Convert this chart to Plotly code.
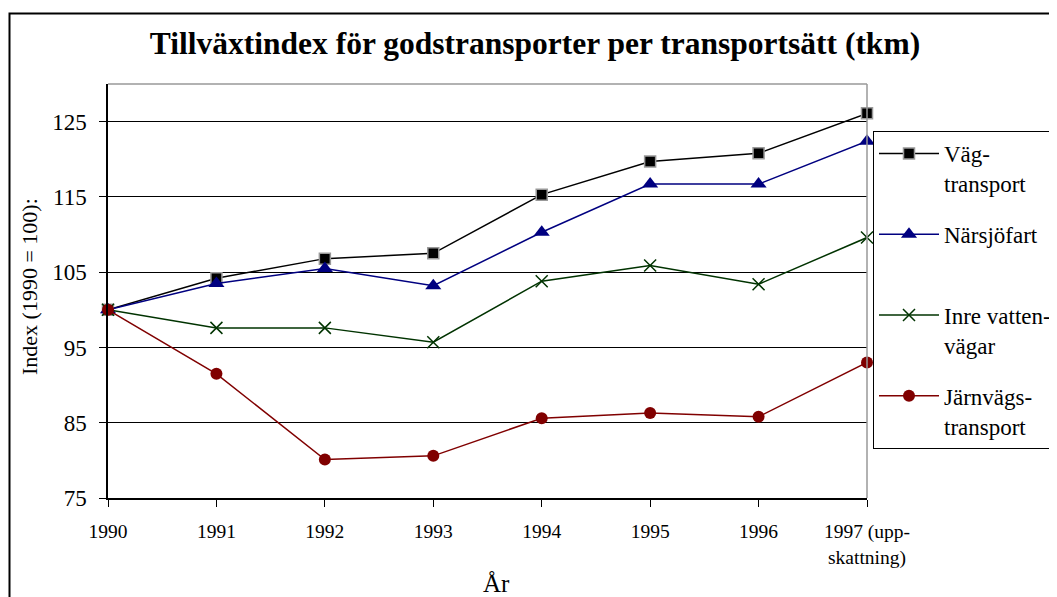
import plotly.graph_objects as go

years = [1990, 1991, 1992, 1993, 1994, 1995, 1996, 1997]
vag = [100, 104.2, 106.8, 107.5, 115.3, 119.7, 120.8, 126.1]
narsjo = [100, 103.5, 105.5, 103.2, 110.3, 116.7, 116.7, 122.4]
inre = [100, 97.6, 97.6, 95.7, 103.8, 105.9, 103.4, 109.6]
jarnvag = [100, 91.5, 80.1, 80.6, 85.6, 86.3, 85.8, 93.0]
tick_labels = ["1990", "1991", "1992", "1993", "1994", "1995", "1996",
               "1997 (upp-<br>skattning)"]
y_ticks = [75, 85, 95, 105, 115, 125]

FONT = "Liberation Serif"
OFF = 8  # page body margin
W, H = 1057 - OFF, 597 - OFF
# plot area in page (reference) pixels
L, R, T, B = 108, 867, 84, 498
pw, ph = R - L, B - T

def px_x(x):
    return (x - L) / pw

def px_y(y):
    return (B - y) / ph

fig = go.Figure()
fig.add_trace(go.Scatter(
    x=years, y=vag, name="Väg-<br>transport", mode="lines+markers",
    line=dict(color="#000000", width=1.5),
    marker=dict(symbol="square", size=11, color="#000000", line=dict(color="#999999", width=1.5)),
    cliponaxis=False, legendgroup="a"))
fig.add_trace(go.Scatter(
    x=years, y=narsjo, name="Närsjöfart<br> ", mode="lines+markers",
    line=dict(color="#000080", width=1.5),
    marker=dict(symbol="triangle-up", size=14, color="#000080"),
    cliponaxis=False, legendgroup="b"))
fig.add_trace(go.Scatter(
    x=years, y=inre, name="Inre vatten-<br>vägar", mode="lines+markers",
    line=dict(color="#003300", width=1.5),
    marker=dict(symbol="x-thin", size=12, color="#003300", line=dict(color="#003300", width=1.5)),
    cliponaxis=False, legendgroup="c"))
fig.add_trace(go.Scatter(
    x=years, y=jarnvag, name="Järnvägs-<br>transport", mode="lines+markers",
    line=dict(color="#800000", width=1.5),
    marker=dict(symbol="circle", size=12, color="#800000"),
    cliponaxis=False, legendgroup="d"))

fig.update_layout(
    width=W, height=H,
    margin=dict(l=L - OFF, r=(1057 - R), t=T - OFF, b=(597 - B), autoexpand=False),
    paper_bgcolor="white", plot_bgcolor="white",
    font=dict(family=FONT, color="black", size=20),
    title=dict(text="<b>Tillväxtindex för godstransporter per transportsätt (tkm)</b>",
               x=(535 - OFF) / W, xanchor="center", y=1 - (43 - OFF) / H, yanchor="middle",
               font=dict(family=FONT, size=31.5, color="black")),
    showlegend=True,
    legend=dict(x=px_x(873), xanchor="left", y=px_y(131), yanchor="top",
                bgcolor="white", bordercolor="black", borderwidth=1,
                font=dict(family=FONT, size=23, color="black"),
                tracegroupgap=18, itemwidth=60, valign="top"),
)
fig.update_xaxes(
    range=[1990, 1997], tickmode="array", tickvals=years, ticktext=tick_labels,
    showgrid=False, zeroline=False, showline=True, linecolor="black", linewidth=1.5,
    ticks="outside", ticklen=7, tickcolor="black", ticklabelstandoff=8,
    tickfont=dict(family=FONT, size=19.5))
fig.update_yaxes(
    range=[75, 130], tickmode="array", tickvals=y_ticks,
    showgrid=True, gridcolor="black", gridwidth=1, zeroline=False,
    showline=True, linecolor="black", linewidth=1.5,
    ticks="outside", ticklen=7, tickcolor="black", ticklabelstandoff=8,
    tickfont=dict(family=FONT, size=23))

# plot area top/right border (gray)
fig.add_shape(type="line", xref="paper", yref="paper", x0=0, x1=1, y0=1, y1=1,
              line=dict(color="#999999", width=1.5))
fig.add_shape(type="line", xref="paper", yref="paper", x0=1, x1=1, y0=0, y1=1,
              line=dict(color="#999999", width=1.5))
# outer chart frame
fig.add_shape(type="rect", xref="paper", yref="paper",
              x0=px_x(9.5), x1=px_x(1080), y0=px_y(620), y1=px_y(13.5),
              line=dict(color="black", width=2))

fig.add_annotation(text="Index (1990 = 100):", xref="paper", yref="paper",
                   x=px_x(29), xanchor="center", y=px_y(287), yanchor="middle",
                   textangle=-90, showarrow=False, font=dict(family=FONT, size=22))
fig.add_annotation(text="År", xref="paper", yref="paper",
                   x=px_x(496), xanchor="center", y=px_y(583), yanchor="middle",
                   showarrow=False, font=dict(family=FONT, size=25))

fig.write_html("out.html")
